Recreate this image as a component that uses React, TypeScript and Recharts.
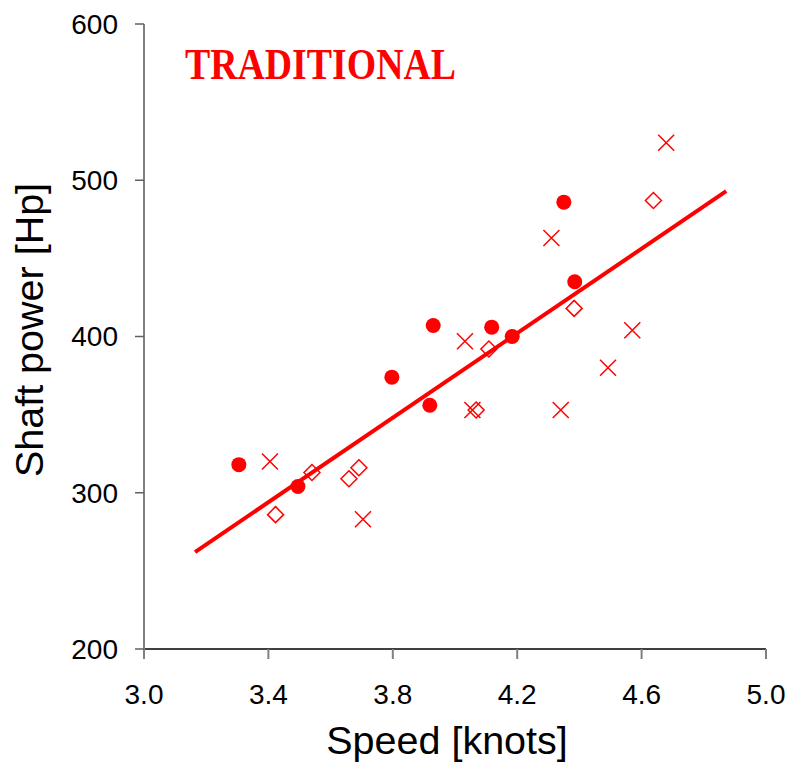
import { ComposedChart, Scatter, Line, XAxis, YAxis, Label } from 'recharts'

const RED = '#ff0000'

const circleSpeed = [3.305, 3.495, 3.797, 3.919, 3.93, 4.118, 4.184, 4.385, 4.35]
const circlePower = [318, 304, 374, 356, 407, 406, 400, 435, 486]

const diamondSpeed = [3.423, 3.54, 3.659, 3.691, 4.068, 4.109, 4.383, 4.638]
const diamondPower = [286, 313, 309, 316, 353, 392, 418, 487]

const crossSpeed = [3.405, 3.704, 4.032, 4.056, 4.31, 4.34, 4.492, 4.57, 4.679]
const crossPower = [320, 283, 397, 353, 463, 353, 380, 404, 524]

// fitted trend, end points
const trendSpeed = [3.164, 4.872]
const trendPower = [262, 493]

const xTicks = [3.0, 3.4, 3.8, 4.2, 4.6, 5.0]
const yTicks = [200, 300, 400, 500, 600]

const zip = (xs: number[], ys: number[]) => xs.map((x, i) => ({ x, y: ys[i] }))

const circles = zip(circleSpeed, circlePower)
const diamonds = zip(diamondSpeed, diamondPower)
const crosses = zip(crossSpeed, crossPower)
const trend = zip(trendSpeed, trendPower)

const Dot = (p: any) => <circle cx={p.cx} cy={p.cy} r={7.5} fill={RED} />

const Diamond = (p: any) => {
  const s = 8
  return (
    <path
      d={`M${p.cx},${p.cy - s}L${p.cx + s},${p.cy}L${p.cx},${p.cy + s}L${p.cx - s},${p.cy}Z`}
      fill="none"
      stroke={RED}
      strokeWidth={1.5}
    />
  )
}

const Cross = (p: any) => {
  const s = 8
  return (
    <path
      d={`M${p.cx - s},${p.cy - s}L${p.cx + s},${p.cy + s}M${p.cx - s},${p.cy + s}L${p.cx + s},${p.cy - s}`}
      stroke={RED}
      strokeWidth={1.5}
    />
  )
}

const tickFont = { fontFamily: 'Arial, "Liberation Sans", sans-serif', fontSize: 28, fill: '#000' }
const titleFont = { fontFamily: 'Arial, "Liberation Sans", sans-serif', fontSize: 39.5, fill: '#000' }

export default function App() {
  return (
    <div style={{ position: 'absolute', left: 0, top: 0, width: 790, height: 764, background: '#fff' }}>
      <ComposedChart width={790} height={764} margin={{ top: 24, right: 24, bottom: 0, left: 0 }}>
        <XAxis
          type="number"
          dataKey="x"
          domain={[3, 5]}
          ticks={xTicks}
          tickFormatter={(v: number) => v.toFixed(1)}
          height={115}
          tickSize={10}
          tickMargin={25}
          tick={tickFont}
          axisLine={{ stroke: '#000', strokeWidth: 1.5 }}
          tickLine={{ stroke: '#808080', strokeWidth: 2 }}
          allowDataOverflow
        >
          <Label
            content={() => (
              <text x={447} y={754} textAnchor="middle" {...titleFont}>
                Speed [knots]
              </text>
            )}
          />
        </XAxis>
        <YAxis
          type="number"
          dataKey="y"
          domain={[200, 600]}
          ticks={yTicks}
          width={144}
          tickSize={9}
          tickMargin={17}
          tick={tickFont}
          axisLine={{ stroke: '#808080', strokeWidth: 2 }}
          tickLine={{ stroke: '#606060', strokeWidth: 1.5 }}
          allowDataOverflow
        >
          <Label
            content={() => (
              <text x={43} y={330} textAnchor="middle" transform="rotate(-90 43 330)" {...titleFont}>
                Shaft power [Hp]
              </text>
            )}
          />
        </YAxis>
        <Line
          data={trend}
          dataKey="y"
          type="linear"
          stroke={RED}
          strokeWidth={4}
          dot={false}
          activeDot={false}
          isAnimationActive={false}
        />
        <Scatter data={circles} shape={Dot} isAnimationActive={false} />
        <Scatter data={diamonds} shape={Diamond} isAnimationActive={false} />
        <Scatter data={crosses} shape={Cross} isAnimationActive={false} />
      </ComposedChart>
      <svg width={790} height={764} style={{ position: 'absolute', left: 0, top: 0, pointerEvents: 'none' }}>
        <text
          transform="translate(185 79) scale(1 1.16)"
          fontFamily='"Times New Roman", "Liberation Serif", serif'
          fontWeight="bold"
          fontSize={38}
          fill={RED}
          textLength={271}
          lengthAdjust="spacingAndGlyphs"
        >
          TRADITIONAL
        </text>
      </svg>
    </div>
  )
}
